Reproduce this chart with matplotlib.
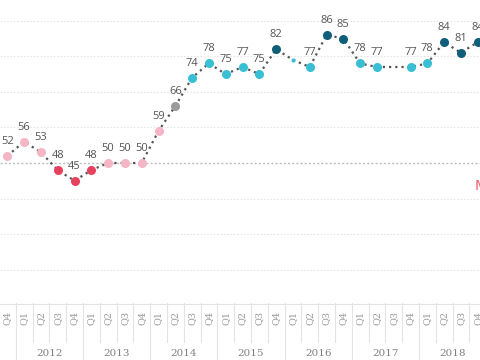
import numpy as np
import matplotlib
matplotlib.use("Agg")
import matplotlib.pyplot as plt

# quarterly values, 2011 Q4 .. 2018 Q4
quarters = ["Q4"] + ["Q1", "Q2", "Q3", "Q4"] * 7
years = ["2012", "2013", "2014", "2015", "2016", "2017", "2018"]
values = [52, 56, 53, 48, 45, 48, 50, 50, 50, 59, 66, 74, 78,
          75, 77, 75, 82, 79, 77, 86, 85, 78, 77, 77, 77, 78, 84, 81, 84]
# points whose label is not shown (marker hidden or half hidden)
hidden = [17, 23]
ref_value = 50
ref_label = "Median"

pink = "#F4B5C4"
red = "#E8415E"
grey = "#9B9B9B"
cyan = "#38BFD4"
teal = "#0F5E7A"


def colour(v):
    if v <= 48:
        return red
    if v < 60:
        return pink
    if v < 70:
        return grey
    if v < 80:
        return cyan
    return teal


W, H = 480, 360
fig = plt.figure(figsize=(W / 100, H / 100), dpi=100)
ax_bottom = 303
ax = fig.add_axes([0, (H - ax_bottom) / H, 1, ax_bottom / H])

x = np.arange(len(values))
step = 16.8
x0 = 7.3
ax.set_xlim(-x0 / step, (W - x0) / step)
ax.set_ylim(50 - (ax_bottom - 163) / 3.556, 50 + 163 / 3.556)

# gridlines
for g in range(20, 100, 10):
    if g == ref_value:
        continue
    ax.axhline(g, color="#e6e6e6", lw=0.8, ls=(0, (1.5, 1.5)), zorder=0)
ax.axhline(ref_value, color="#bdbdbd", lw=1.0, ls=(0, (1.5, 1.5)), zorder=1)
ax.text(W - 5, 163 + 4, ref_label, transform=None, color="#f0606a",
        fontsize=10, ha="left", va="bottom")

ax.plot(x, values, color="#555555", lw=1.6, ls=(0, (1, 1.8)), zorder=2)
for i, v in enumerate(values):
    if i in hidden:
        if i == 17:
            ax.plot(i, v, "o", ms=3, color=colour(v), mec="none", zorder=3)
        continue
    ax.plot(i, v, "o", ms=6.5, color=colour(v), mec="none", zorder=3)
    ax.annotate(str(v), (i, v), xytext=(0, 6.5), textcoords="offset points",
                ha="center", va="bottom", fontsize=8, color="#555555",
                family="Open Sans", zorder=4)

for s in ax.spines.values():
    s.set_visible(False)
ax.set_xticks([])
ax.set_yticks([])

# header with quarters and years
tr = ax.get_xaxis_transform()


def ay(px):
    return (ax_bottom - px) / ax_bottom


ax.plot([-1, 40], [ay(303.5)] * 2, transform=tr, color="#e3e3e3", lw=0.8,
        clip_on=False)
for i, q in enumerate(quarters):
    ax.text(i, ay(318), q, transform=tr, rotation=90, ha="center",
            va="center", fontsize=7, color="#999999", family="DejaVu Serif",
            clip_on=False)
    b = i + 0.5
    bottom = 360 if q == "Q4" else 342
    ax.plot([b, b], [ay(303), ay(bottom)], transform=tr, color="#e3e3e3",
            lw=0.8, clip_on=False)
for k, yr in enumerate(years):
    ax.text(2.5 + 4 * k, ay(353), yr, transform=tr, ha="center",
            va="center", fontsize=7.5, color="#808080",
            family="DejaVu Serif", clip_on=False)

fig.savefig("out.png", dpi=100)
